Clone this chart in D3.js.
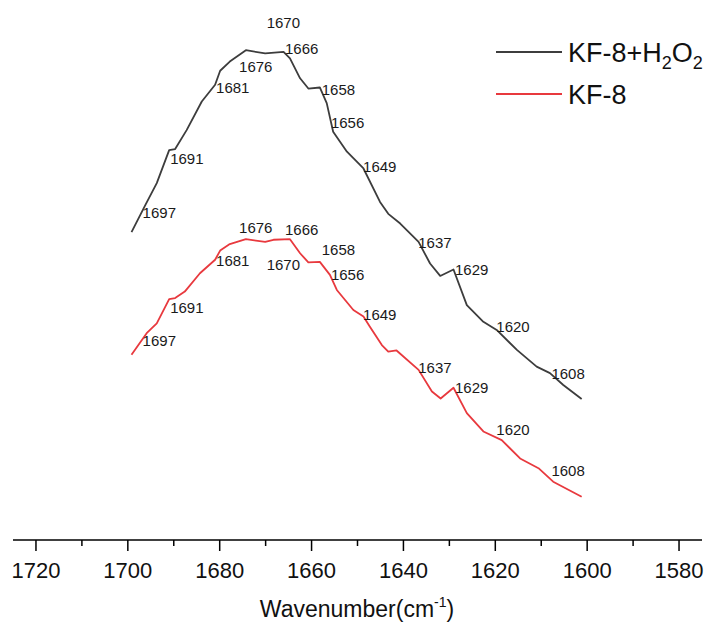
<!DOCTYPE html>
<html>
<head>
<meta charset="utf-8">
<script src="https://cdn.jsdelivr.net/npm/d3@7"></script>
<style>
  body { margin: 0; background: #fff; }
  svg { font-family: "Liberation Sans", Arial, sans-serif; }
</style>
</head>
<body>
<div id="chart"></div>
<script>
// wavenumber (cm-1) and absorbance (a.u.)
const wnH2O2 = [1699.2, 1696.2, 1693.7, 1691.0, 1689.7, 1687.2, 1683.9, 1681.0, 1679.9, 1677.8,
  1674.3, 1670.1, 1666.1, 1664.7, 1662.5, 1660.7, 1658.2, 1656.7, 1655.3, 1652.3,
  1648.7, 1645.1, 1643.3, 1640.7, 1636.7, 1634.2, 1632.0, 1629.1, 1626.2, 1622.6,
  1619.7, 1615.3, 1611.0, 1608.1, 1605.2, 1601.2];
const absH2O2 = [0.570, 0.620, 0.661, 0.722, 0.724, 0.759, 0.812, 0.843, 0.869, 0.886,
  0.907, 0.901, 0.904, 0.892, 0.855, 0.836, 0.838, 0.809, 0.756, 0.719,
  0.688, 0.626, 0.604, 0.586, 0.552, 0.512, 0.489, 0.501, 0.435, 0.404,
  0.389, 0.352, 0.321, 0.309, 0.287, 0.261];

const wnKF8 = [1699.2, 1695.9, 1693.7, 1691.0, 1689.7, 1687.6, 1684.3, 1681.0, 1679.9, 1677.8,
  1674.3, 1670.1, 1668.3, 1664.7, 1662.5, 1660.7, 1658.2, 1656.0, 1654.5, 1650.9,
  1648.7, 1647.3, 1644.7, 1643.3, 1641.5, 1636.7, 1633.8, 1631.9, 1629.1, 1626.2,
  1622.6, 1618.6, 1614.6, 1610.6, 1607.4, 1601.2];
const absKF8 = [0.343, 0.383, 0.401, 0.446, 0.448, 0.460, 0.494, 0.519, 0.536, 0.548,
  0.557, 0.552, 0.556, 0.557, 0.531, 0.514, 0.515, 0.491, 0.463, 0.426,
  0.414, 0.395, 0.361, 0.349, 0.351, 0.315, 0.275, 0.262, 0.282, 0.235,
  0.201, 0.185, 0.151, 0.133, 0.108, 0.080];

// peak labels
const peaks = [1697, 1691, 1681, 1676, 1670, 1666, 1658, 1656, 1649, 1637, 1629, 1620, 1608];
const xTicks = [1720, 1700, 1680, 1660, 1640, 1620, 1600, 1580];

const width = 715, height = 623;

const svg = d3.select("#chart").append("svg")
  .attr("width", width)
  .attr("height", height);

const x = d3.scaleLinear().domain([1725, 1575]).range([13, 702]);
const y = d3.scaleLinear().domain([0, 1]).range([540, 0]);

const series = [
  { name: "KF-8+H2O2", wn: wnH2O2, ab: absH2O2, color: "#3d3d3d",
    dy: { 1697: 1, 1691: 9, 1681: 3, 1676: 11, 1670: -30, 1666: -3, 1658: 0, 1656: 6,
          1649: 0, 1637: 2, 1629: -1, 1620: -2, 1608: 0 } },
  { name: "KF-8", wn: wnKF8, ab: absKF8, color: "#e8393e",
    dy: { 1697: 1, 1691: 9, 1681: 1, 1676: -14, 1670: 23, 1666: -9, 1658: -13, 1656: 0,
          1649: -1, 1637: -1, 1629: -1, 1620: -7, 1608: -8 } }
];

const line = d3.line()
  .x(d => x(d[0]))
  .y(d => y(d[1]));

// value on a series at a given wavenumber (wavenumbers are descending)
function valueAt(s, w) {
  for (let i = 0; i < s.wn.length - 1; i++) {
    const a = s.wn[i], b = s.wn[i + 1];
    if (w <= a && w >= b) {
      const t = (a - w) / (a - b);
      return s.ab[i] + t * (s.ab[i + 1] - s.ab[i]);
    }
  }
  return s.ab[0];
}

series.forEach(s => {
  svg.append("path")
    .datum(d3.zip(s.wn, s.ab))
    .attr("fill", "none")
    .attr("stroke", s.color)
    .attr("stroke-width", 1.8)
    .attr("stroke-linejoin", "round")
    .attr("d", line);

  svg.append("g")
    .selectAll("text")
    .data(peaks)
    .join("text")
    .attr("x", d => x(d) + 1)
    .attr("y", d => y(valueAt(s, d)) + s.dy[d] + 5)
    .attr("font-size", 15)
    .attr("fill", "#1a1a1a")
    .text(d => d);
});

// x axis
const axis = svg.append("g").attr("transform", "translate(0,540)");
axis.append("line")
  .attr("x1", 13).attr("x2", 702)
  .attr("stroke", "#000").attr("stroke-width", 1.5);
axis.selectAll(".minor")
  .data(d3.range(1710, 1575, -20))
  .join("line")
  .attr("x1", d => x(d)).attr("x2", d => x(d))
  .attr("y1", 0).attr("y2", 6)
  .attr("stroke", "#000").attr("stroke-width", 1.5);
axis.selectAll(".major")
  .data(xTicks)
  .join("line")
  .attr("x1", d => x(d)).attr("x2", d => x(d))
  .attr("y1", 0).attr("y2", 11)
  .attr("stroke", "#000").attr("stroke-width", 1.5);
axis.selectAll(".lbl")
  .data(xTicks)
  .join("text")
  .attr("x", d => x(d))
  .attr("y", 38)
  .attr("text-anchor", "middle")
  .attr("font-size", 22)
  .attr("fill", "#111")
  .text(d => d);

const title = svg.append("text")
  .attr("x", 357)
  .attr("y", 617)
  .attr("text-anchor", "middle")
  .attr("font-size", 23)
  .attr("fill", "#111");
title.append("tspan").text("Wavenumber(cm");
title.append("tspan").attr("font-size", 14).attr("dy", -10).text("-1");
title.append("tspan").attr("dy", 10).text(")");

// legend
const legend = svg.append("g");
series.forEach((s, i) => {
  const ly = 52 + i * 42;
  legend.append("line")
    .attr("x1", 496).attr("x2", 562)
    .attr("y1", ly).attr("y2", ly)
    .attr("stroke", s.color).attr("stroke-width", 1.8);
  const t = legend.append("text")
    .attr("x", 568)
    .attr("y", ly + 10)
    .attr("font-size", 27)
    .attr("fill", "#111");
  if (i === 0) {
    t.append("tspan").text("KF-8+H");
    t.append("tspan").attr("font-size", 18).attr("dy", 7).text("2");
    t.append("tspan").attr("dy", -7).text("O");
    t.append("tspan").attr("font-size", 18).attr("dy", 7).text("2");
  } else {
    t.text(s.name);
  }
});
</script>
</body>
</html>
